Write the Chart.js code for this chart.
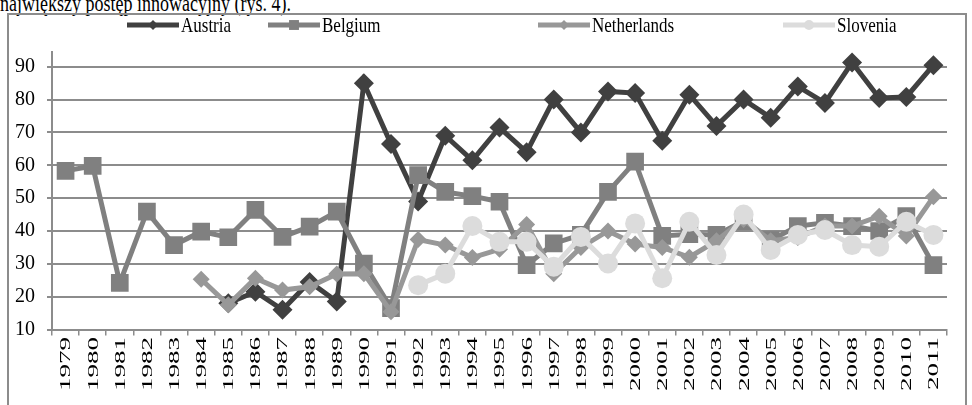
<!DOCTYPE html>
<html>
<head>
<meta charset="utf-8">
<script src="https://cdn.jsdelivr.net/npm/chart.js@4/dist/chart.umd.min.js"></script>
<style>
  html, body { margin: 0; padding: 0; background: #fff; }
  body { width: 972px; height: 405px; position: relative; overflow: hidden; }
  #caption {
    position: absolute; left: 0; top: -9px;
    font: 18px 'Liberation Serif', 'Times New Roman', serif; color: #000;
    white-space: nowrap; transform: scale(1, 1.25); transform-origin: 0 0;
  }
  #frame {
    position: absolute; left: 7px; top: 13px; width: 960px; height: 420px;
    border: 2px solid #8c8c8c; box-sizing: border-box;
  }
  #wrap { position: absolute; left: 0; top: 0; width: 972px; height: 405px; }
</style>
</head>
<body>
<div id="caption">największy postęp innowacyjny (rys. 4).</div>
<div id="frame"></div>
<div id="wrap"><canvas id="chart" width="972" height="405"></canvas></div>
<script>
const YEARS = [
  '1979', '1980', '1981', '1982', '1983', '1984', '1985', '1986', '1987', '1988', '1989',
  '1990', '1991', '1992', '1993', '1994', '1995', '1996', '1997', '1998', '1999', '2000',
  '2001', '2002', '2003', '2004', '2005', '2006', '2007', '2008', '2009', '2010', '2011',
]
const SERIES_NAMES = ['Austria', 'Belgium', 'Netherlands', 'Slovenia']

const AUSTRIA = [
  null, null, null, null, null, null, 18, 21.5, 16, 24.5, 18.5,
  85, 66.5, 49, 69, 61.5, 71.5, 64, 80, 70, 82.5, 82,
  67.5, 81.5, 72, 80, 74.5, 84, 79, 91.3, 80.5, 80.8, 90.5,
]
const BELGIUM = [
  58.3, 59.8, 24.2, 45.9, 35.7, 39.8, 38.1, 46.4, 38.2, 41.3, 45.9,
  30.1, 16.5, 57, 51.9, 50.6, 48.9, 29.6, 36.2, 38.8, 51.9, 61.1,
  38.5, 39, 38.8, 43, 37.2, 41.5, 42.5, 41.5, 40, 44.5, 29.6,
]
const NETHERLANDS = [
  null, null, null, null, null, 25.3, 17.5, 25.6, 22, 23, 26.9,
  27, 15.4, 37.4, 35.7, 31.9, 34.4, 42, 27, 35, 40, 36,
  35, 32, 37, 43.5, 37, 38, 41.5, 41.5, 44.5, 38.5, 50.4,
]
const SLOVENIA = [
  null, null, null, null, null, null, null, null, null, null, null,
  null, null, 23.5, 27, 41.5, 36.7, 36.7, 29.1, 38.2, 30.1, 42.3,
  25.6, 42.8, 32.7, 45, 34.2, 38.8, 40.3, 35.7, 35.2, 42.8, 38.8,
]
const Y_TICKS = [10, 20, 30, 40, 50, 60, 70, 80, 90]

const COLORS = ['#404040', '#808080', '#989898', '#dcdcdc']
const STYLES = ['rectRot', 'rect', 'rectRot', 'circle']
const RADII = [10, 12.5, 8.5, 10]
const LEGEND_X = [127, 268, 538, 783]
const GRID = '#8c8c8c'
const SERIF = "'Liberation Serif', 'Times New Roman', serif"

function makeDataset(index, values) {
  return {
    label: SERIES_NAMES[index],
    data: values,
    borderColor: COLORS[index],
    backgroundColor: COLORS[index],
    pointBackgroundColor: COLORS[index],
    pointBorderWidth: 0,
    pointStyle: STYLES[index],
    pointRadius: RADII[index],
    pointHoverRadius: RADII[index],
    borderWidth: 5,
    tension: 0,
    spanGaps: false,
    order: 3 - index,
  }
}

function drawMarker(ctx, style, x, y, r) {
  ctx.beginPath()
  if (style === 'circle') {
    ctx.arc(x, y, r, 0, Math.PI * 2)
  } else if (style === 'rect') {
    const s = r * Math.SQRT1_2
    ctx.rect(x - s, y - s, s * 2, s * 2)
  } else {
    ctx.moveTo(x, y - r)
    ctx.lineTo(x + r, y)
    ctx.lineTo(x, y + r)
    ctx.lineTo(x - r, y)
    ctx.closePath()
  }
  ctx.fill()
}

// excel-like legend: line sample with a small marker, then the name
const excelLegend = {
  id: 'excelLegend',
  afterDraw(chart) {
    const ctx = chart.ctx
    const y = 25
    ctx.save()
    SERIES_NAMES.forEach((name, i) => {
      const x = LEGEND_X[i]
      ctx.fillStyle = COLORS[i]
      ctx.fillRect(x, y - 2.5, 52, 5)
      drawMarker(ctx, STYLES[i], x + 26, y, i === 1 ? 7 : 5)
      ctx.save()
      ctx.fillStyle = '#000'
      ctx.font = '17px ' + SERIF
      ctx.textBaseline = 'middle'
      ctx.textAlign = 'left'
      ctx.translate(x + 54, y + 1)
      ctx.scale(1, 1.25)
      ctx.fillText(name, 0, 0)
      ctx.restore()
    })
    ctx.restore()
  },
}

// year labels: rotated and stretched along the text, like the scanned original
const stretchedYears = {
  id: 'stretchedYears',
  afterDraw(chart) {
    const scale = chart.scales.x
    const ctx = chart.ctx
    ctx.save()
    ctx.fillStyle = '#000'
    ctx.font = '15px ' + SERIF
    ctx.textAlign = 'right'
    ctx.textBaseline = 'middle'
    YEARS.forEach((year, i) => {
      ctx.save()
      ctx.translate(scale.getPixelForTick(i) + 1, scale.top + 7.5)
      ctx.rotate(-Math.PI / 2)
      ctx.scale(1.8, 1)
      ctx.fillText(year, 0, 0)
      ctx.restore()
    })
    ctx.restore()
  },
}

new Chart(document.getElementById('chart'), {
  type: 'line',
  data: {
    labels: YEARS,
    datasets: [
      makeDataset(0, AUSTRIA),
      makeDataset(1, BELGIUM),
      makeDataset(2, NETHERLANDS),
      makeDataset(3, SLOVENIA),
    ],
  },
  options: {
    responsive: false,
    animation: false,
    events: [],
    layout: { padding: { top: 52, right: 25, bottom: 0, left: 0 } },
    plugins: {
      legend: { display: false },
      tooltip: { enabled: false },
    },
    elements: { line: { clip: false }, point: { hitRadius: 0 } },
    scales: {
      x: {
        offset: true,
        afterFit: (scale) => { scale.height = 75.5 },
        grid: {
          drawOnChartArea: false,
          drawTicks: true,
          tickLength: 6,
          offset: true,
          color: GRID,
          lineWidth: 1.5,
        },
        border: { color: GRID, width: 2 },
        ticks: {
          autoSkip: false,
          minRotation: 90,
          maxRotation: 90,
          padding: 1,
          color: 'rgba(0,0,0,0)',
          font: { family: SERIF, size: 16 },
        },
      },
      y: {
        min: 10,
        max: 94.5,
        afterFit: (scale) => { scale.width = 52 },
        afterBuildTicks: (scale) => { scale.ticks = Y_TICKS.map((v) => ({ value: v })) },
        grid: { color: GRID, lineWidth: 2, tickLength: 5 },
        border: { color: GRID, width: 2 },
        ticks: {
          padding: 12,
          color: '#000',
          font: { family: SERIF, size: 20 },
        },
      },
    },
  },
  plugins: [excelLegend, stretchedYears],
})
</script>
</body>
</html>
